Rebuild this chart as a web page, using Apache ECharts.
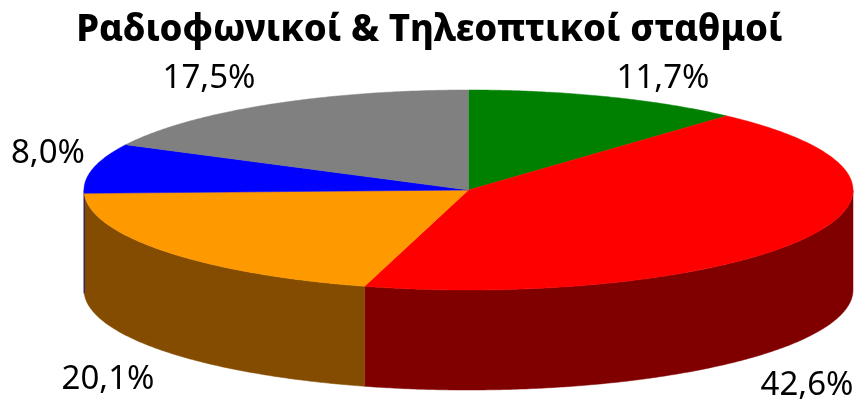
<!DOCTYPE html>
<html><head><meta charset="utf-8">
<style>html,body{margin:0;padding:0;background:#fff}#c{width:857px;height:402px}</style>
<script src="https://cdn.jsdelivr.net/npm/echarts@6/dist/echarts.min.js"></script>
</head><body><div id="c"></div>
<script>
const titleText = 'Ραδιοφωνικοί & Τηλεοπτικοί σταθμοί';
const values = [11.7, 42.6, 20.1, 8.0, 17.5];
const labels = ['11,7%', '42,6%', '20,1%', '8,0%', '17,5%'];
const topColors = ['#008000', '#FF0000', '#FF9900', '#0000FF', '#808080'];
const sideColors = ['#004000', '#800000', '#844C00', '#000080', '#404040'];
const labelAnchors = [[663, 79], [807, 386], [108, 380], [48, 154], [209, 79]];

const cx = 468.5, cy = 190, rx = 384.5, ry = 100, depth = 100;
const total = values.reduce((a, b) => a + b, 0);
const starts = []; let acc = 0;
values.forEach(v => { starts.push(acc); acc += v; });
const ang = p => p / total * 2 * Math.PI;
const pt = (a, dy) => [cx + rx * Math.sin(a), cy - ry * Math.cos(a) + (dy || 0)];
function arc(a0, a1, dy) {
  const n = Math.max(2, Math.ceil((a1 - a0) * 120)), out = [];
  for (let i = 0; i <= n; i++) out.push(pt(a0 + (a1 - a0) * i / n, dy));
  return out;
}
function renderSide(params, api) {
  const i = api.value(0);
  const a0 = Math.max(ang(starts[i]), Math.PI / 2), a1 = Math.min(ang(starts[i] + values[i]), 1.5 * Math.PI);
  if (a1 <= a0) return { type: 'group', children: [] };
  const top = arc(a0, a1, 0), bot = arc(a0, a1, depth).reverse();
  return { type: 'polygon', shape: { points: top.concat(bot) },
    style: { fill: sideColors[i], stroke: sideColors[i], lineWidth: 0.5 } };
}
function renderTop(params, api) {
  const i = api.value(0);
  const a0 = ang(starts[i]), a1 = ang(starts[i] + values[i]);
  return { type: 'polygon', shape: { points: [[cx, cy]].concat(arc(a0, a1, 0)) },
    style: { fill: topColors[i], stroke: topColors[i], lineWidth: 0.5 } };
}
function renderLabel(params, api) {
  const i = api.value(0);
  return { type: 'text', x: labelAnchors[i][0], y: labelAnchors[i][1],
    style: { text: labels[i], fill: '#000', font: '33px "Noto Sans"', align: 'center', verticalAlign: 'middle' } };
}
const idx = values.map((v, i) => [i, v]);
const chart = echarts.init(document.getElementById('c'), null, { renderer: 'canvas' });
chart.setOption({
  animation: false,
  backgroundColor: '#fff',
  title: { text: titleText, left: 424.5, top: 7, textAlign: 'center',
    textStyle: { fontFamily: '"Noto Sans"', fontWeight: 800, fontSize: 36.5, color: '#000' } },
  series: [
    { type: 'custom', coordinateSystem: 'none', data: idx, renderItem: renderSide, z: 1, silent: true },
    { type: 'custom', coordinateSystem: 'none', data: idx, renderItem: renderTop, z: 2, silent: true },
    { type: 'custom', coordinateSystem: 'none', data: idx, renderItem: renderLabel, z: 3, silent: true }
  ]
});
</script></body></html>
